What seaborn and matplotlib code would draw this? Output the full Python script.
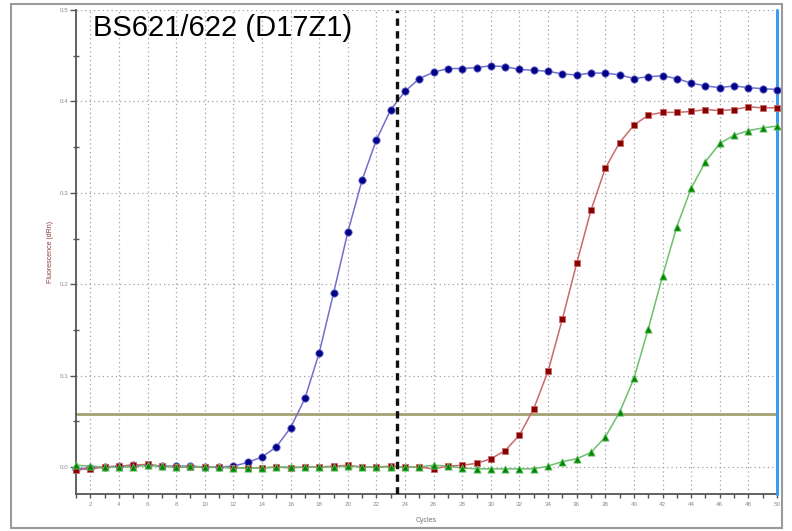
import matplotlib
matplotlib.use("Agg")
import matplotlib.pyplot as plt
from matplotlib.patches import Rectangle
from matplotlib.ticker import MultipleLocator, FormatStrFormatter
import numpy as np
import pandas as pd
import seaborn as sns

# Amplification data: fluorescence (dRn) per cycle for three samples
cycles = list(range(1, 51))

blue = [-0.002, -0.001, 0.000, 0.001, 0.002, 0.002, 0.001, 0.001, 0.001, 0.000,
        0.000, 0.001, 0.005, 0.011, 0.022, 0.043, 0.075, 0.125, 0.190, 0.257,
        0.314, 0.358, 0.391, 0.411, 0.425, 0.432, 0.436, 0.436, 0.437, 0.439,
        0.438, 0.435, 0.434, 0.433, 0.430, 0.429, 0.431, 0.431, 0.429, 0.425,
        0.427, 0.428, 0.425, 0.420, 0.417, 0.415, 0.417, 0.415, 0.414, 0.413]

red = [-0.003, -0.002, 0.000, 0.001, 0.002, 0.003, 0.001, 0.000, 0.000, 0.000,
       0.000, -0.001, -0.001, -0.001, 0.000, -0.001, 0.000, 0.000, 0.001, 0.002,
       0.000, 0.000, 0.001, 0.000, 0.000, -0.002, 0.001, 0.002, 0.004, 0.009,
       0.018, 0.035, 0.064, 0.105, 0.162, 0.223, 0.281, 0.327, 0.355, 0.374,
       0.385, 0.388, 0.388, 0.389, 0.391, 0.390, 0.391, 0.394, 0.393, 0.393]

green = [0.002, 0.001, 0.000, 0.000, 0.000, 0.002, 0.001, 0.000, 0.001, 0.000,
         0.000, -0.001, -0.001, -0.001, 0.000, 0.000, 0.000, 0.000, 0.000, 0.001,
         0.000, 0.000, 0.000, 0.000, 0.000, 0.002, 0.001, -0.001, -0.002, -0.002,
         -0.002, -0.002, -0.002, 0.001, 0.006, 0.009, 0.016, 0.033, 0.060, 0.097,
         0.151, 0.209, 0.263, 0.305, 0.334, 0.354, 0.363, 0.368, 0.371, 0.373]

threshold = 0.058
cursor_cycle = 23.45
title = "BS621/622 (D17Z1)"

sns.set_theme(style="white")
plt.rcParams["font.family"] = ["Liberation Sans", "DejaVu Sans"]

fig = plt.figure(figsize=(7.92, 5.31), dpi=100)
ax = fig.add_axes([76 / 792, 1 - 494 / 531, (777 - 76) / 792, (494 - 10) / 531])

series = [
    ("s1", blue, "#000088", "#7070cc", "o", 28),
    ("s2", red, "#880000", "#c86a6a", "s", 21),
    ("s3", green, "#008800", "#6cbf6c", "^", 27),
]

for name, vals, mcol, lcol, mk, sz in series:
    df = pd.DataFrame({"Cycles": cycles, "dRn": vals})
    sns.lineplot(data=df, x="Cycles", y="dRn", ax=ax, color=lcol, lw=1.1,
                 zorder=3, legend=False)
    sns.scatterplot(data=df, x="Cycles", y="dRn", ax=ax, color=mcol, marker=mk,
                    s=sz, edgecolor=lcol, linewidth=0.6, zorder=5, legend=False,
                    clip_on=False)

# threshold and cursor lines
ax.axhline(threshold, color="#a5a174", lw=2.0, zorder=2)
ax.axvline(cursor_cycle, color="#111111", lw=2.4, ls=(0, (2.2, 1.6)), zorder=6)
ax.axvline(50, color="#3a9af5", lw=2.2, zorder=4, clip_on=False)

ax.set_xlim(1, 50)
ax.set_ylim(-0.0295, 0.5)

ax.xaxis.set_major_locator(MultipleLocator(2))
ax.xaxis.set_minor_locator(MultipleLocator(1))
ax.yaxis.set_major_locator(MultipleLocator(0.1))
ax.yaxis.set_minor_locator(MultipleLocator(0.05))
ax.yaxis.set_major_formatter(FormatStrFormatter("%.1f"))

ax.grid(True, which="major", color="#a0a0a0", ls=(0, (1, 2.5)), lw=0.9)
ax.set_axisbelow(True)

ax.tick_params(axis="both", which="both", colors="#555555", labelcolor="#8a8a8a",
               labelsize=4.5, width=1.0)
ax.tick_params(axis="x", which="both", direction="out", length=3, bottom=True, pad=3)
ax.tick_params(axis="y", which="major", direction="out", length=4, left=True, pad=1.5)
ax.tick_params(axis="y", which="minor", direction="inout", length=4, left=True)

for side in ("top", "right"):
    ax.spines[side].set_visible(False)
for side in ("left", "bottom"):
    ax.spines[side].set_color("#555555")
    ax.spines[side].set_linewidth(1.3)

ax.set_xlabel("Cycles", fontsize=5, color="#777777", labelpad=7)
ax.set_ylabel("Fluorescence (dRn)", fontsize=5, color="#8b3a3a", labelpad=4)

fig.text(93 / 792, 1 - 36 / 531, title, fontsize=21, color="black",
         ha="left", va="baseline")

# outer frame
fig.patches.append(Rectangle((11 / 792, 3 / 531), (782 - 11) / 792, (527 - 3) / 531,
                             transform=fig.transFigure, fill=False,
                             edgecolor="#9a9a9a", lw=1.5))

fig.savefig("out.png", dpi=100)
